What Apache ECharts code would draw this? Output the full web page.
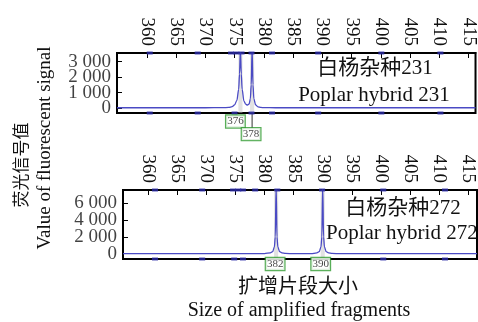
<!DOCTYPE html>
<html><head><meta charset="utf-8">
<script src="https://cdn.jsdelivr.net/npm/echarts@6/dist/echarts.min.js"></script>
<style>html,body{margin:0;padding:0;background:#fff}#c{width:478px;height:322px}</style>
</head><body><div id="c"></div>
<script>
// ---- data ----
const xTicks = [360,365,370,375,380,385,390,395,400,405,410,415];
const topYTicks = [0,1000,2000,3000];
const botYTicks = [0,2000,4000,6000];

const topX = [354.9,360,365,370,373,374,374.6,375,375.4,375.7,375.85,376,376.15,376.3,376.6,376.9,377.2,377.5,377.7,377.85,378,378.15,378.3,378.6,379,379.5,380,382,390,400,410,416.2];
const topY = [20,20,20,20,25,40,90,200,500,1200,2200,3800,2200,1200,450,250,190,260,600,1500,3800,1500,600,200,80,40,25,20,20,20,20,20];

const botX = [355.7,360,370,378,380,381,381.4,381.7,381.85,382,382.15,382.3,382.6,383,383.6,385,388,389,389.4,389.7,389.85,390,390.15,390.3,390.6,391,391.6,393,400,410,416.5];
const botY = [0,0,0,0,20,100,250,800,2000,8000,2000,800,250,100,30,0,0,100,250,800,2000,8000,2000,800,250,100,30,0,0,0,0];

const topPeaks = [376,378];
const botPeaks = [382,390];
const topBinsUp = [360.5,368.7,374.4,375.3,376.2,377.9,381.4,389.3,400.1,410.2];
const topBinsDown = [360.5,368.7,375.0,377.9,381.4,389.3,400.1,410.2];
const botBinsUp = [361.2,369.3,374.6,375.5,376.3,378.4,382.2,389.9,400.4,411];
const botBinsDown = [361.2,369.3,374.8,376.3,400.4,411];

const topTitleCN = '白杨杂种231', topTitleEN = 'Poplar hybrid 231';
const botTitleCN = '白杨杂种272', botTitleEN = 'Poplar hybrid 272';
const yTitleCN = '荧光信号值', yTitleEN = 'Value of fluorescent signal';
const xTitleCN = '扩增片段大小', xTitleEN = 'Size of amplified fragments';

// ---- chart ----
const FONT = '"Liberation Serif","Noto Sans CJK SC",serif';
const fmt = v => { const s = String(Math.abs(v)); return (v<0?'-':'') + s.replace(/\B(?=(\d{3})+(?!\d))/g,' '); };
const tMin = -320, tMax = 3550, bMin = -630, bMax = 7580;
const tx = [354.9, 416.2], bx = [355.7, 416.5];

function xAxis(gi, range){
  return {type:'value', gridIndex:gi, position:'top', min:range[0], max:range[1],
    axisLine:{show:true, onZero:false, lineStyle:{color:'#000',width:2}},
    axisTick:{show:true, inside:true, length:5, customValues:xTicks, lineStyle:{color:'#000'}},
    axisLabel:{show:true, rotate:90, margin:7, customValues:xTicks, hideOverlap:false, color:'#111', fontFamily:FONT, fontSize:19},
    splitLine:{show:false}};
}
function yAxis(gi, mn, mx, ticks){
  return {type:'value', gridIndex:gi, min:mn, max:mx,
    axisLine:{show:true, onZero:false, lineStyle:{color:'#000',width:2}},
    axisTick:{show:true, inside:true, length:5, customValues:ticks, lineStyle:{color:'#000'}},
    axisLabel:{show:false},
    splitLine:{show:false}};
}
const lineStyle = {color:'#4a4ac4', width:1.3};
function trace(gi, xs, ys, peaks){
  return {type:'line', xAxisIndex:gi, yAxisIndex:gi, data:xs.map((x,i)=>[x,ys[i]]),
    showSymbol:false, smooth:0.3, smoothMonotone:'x', lineStyle, z:3,
    markArea:{silent:true, itemStyle:{color:'rgba(190,190,190,0.45)'},
      data:peaks.map(p=>[{xAxis:p-0.35},{xAxis:p+0.35}])}};
}
// y tick labels drawn through the axis scale (labels overlap like the original)
function yLabels(gi, xmin, ticks){
  return {type:'scatter', xAxisIndex:gi, yAxisIndex:gi, clip:false, symbolSize:0, z:5,
    data:ticks.map(t=>[xmin,t]),
    label:{show:true, position:'left', distance:6, formatter:p=>fmt(p.value[1]),
      color:'#111', fontFamily:FONT, fontSize:19}};
}
function bins(gi, xs, y){
  return {type:'scatter', xAxisIndex:gi, yAxisIndex:gi, clip:false, symbol:'rect', symbolSize:[6,3],
    itemStyle:{color:'#2a2aa8'}, data:xs.map(x=>[x,y]), z:4};
}
const boxLabel = (off) => ({show:true, position:'inside', offset:off, formatter:p=>p.value[0],
  fontFamily:FONT, fontSize:11, color:'#111', backgroundColor:'#fff', borderColor:'#2e9a2e', borderWidth:1.2, padding:[1,1,0,1]});

const chart = echarts.init(document.getElementById('c'), null, {renderer:'canvas'});
chart.setOption({
  animation:false,
  grid:[
    {left:117, top:53, width:359, height:60, show:true, borderColor:'#000', borderWidth:2, backgroundColor:'transparent'},
    {left:123, top:190, width:354, height:69, show:true, borderColor:'#000', borderWidth:2, backgroundColor:'transparent'}
  ],
  xAxis:[xAxis(0,tx), xAxis(1,bx)],
  yAxis:[yAxis(0,tMin,tMax,topYTicks), yAxis(1,bMin,bMax,botYTicks)],
  series:[
    trace(0, topX, topY, topPeaks),
    trace(1, botX, botY, botPeaks),
    yLabels(0, tx[0], topYTicks), yLabels(1, bx[0], botYTicks),
    bins(0, topBinsUp, tMax), bins(0, topBinsDown, tMin),
    bins(1, botBinsUp, bMax), bins(1, botBinsDown, bMin),
    {type:'line', xAxisIndex:0, yAxisIndex:0, clip:false, showSymbol:false, data:[[topPeaks[1],tMin],[topPeaks[1],-1290]],
      lineStyle:{color:'#333', width:1}, z:2},
    {type:'scatter', xAxisIndex:0, yAxisIndex:0, clip:false, symbolSize:0, z:5,
      data:[{value:[topPeaks[0],-870], label:boxLabel([-5,0])},{value:[topPeaks[1],-1680], label:boxLabel([-1,0])}]},
    {type:'scatter', xAxisIndex:1, yAxisIndex:1, clip:false, symbolSize:0, z:5,
      data:[{value:[botPeaks[0],-1230], label:boxLabel([-1,0])},{value:[botPeaks[1],-1230], label:boxLabel([-2,0])}]}
  ],
  graphic:[
    {type:'text', x:375, y:68, style:{text:topTitleCN, font:'21px '+FONT, fill:'#111', align:'center', verticalAlign:'middle'}},
    {type:'text', x:374, y:95, style:{text:topTitleEN, font:'21px '+FONT, fill:'#111', align:'center', verticalAlign:'middle'}},
    {type:'text', x:403, y:208, style:{text:botTitleCN, font:'21px '+FONT, fill:'#111', align:'center', verticalAlign:'middle'}},
    {type:'text', x:326, y:233, style:{text:botTitleEN, font:'21px '+FONT, fill:'#111', align:'left', verticalAlign:'middle'}},
    {type:'text', x:23, y:165, rotation:Math.PI/2, style:{text:yTitleCN, font:'17px '+FONT, fill:'#111', align:'center', verticalAlign:'middle'}},
    {type:'text', x:45, y:148, rotation:Math.PI/2, style:{text:yTitleEN, font:'19px '+FONT, fill:'#111', align:'center', verticalAlign:'middle'}},
    {type:'text', x:298, y:288, style:{text:xTitleCN, font:'20px '+FONT, fill:'#111', align:'center', verticalAlign:'middle'}},
    {type:'text', x:299, y:311, style:{text:xTitleEN, font:'20px '+FONT, fill:'#111', align:'center', verticalAlign:'middle'}}
  ]
});
</script></body></html>
